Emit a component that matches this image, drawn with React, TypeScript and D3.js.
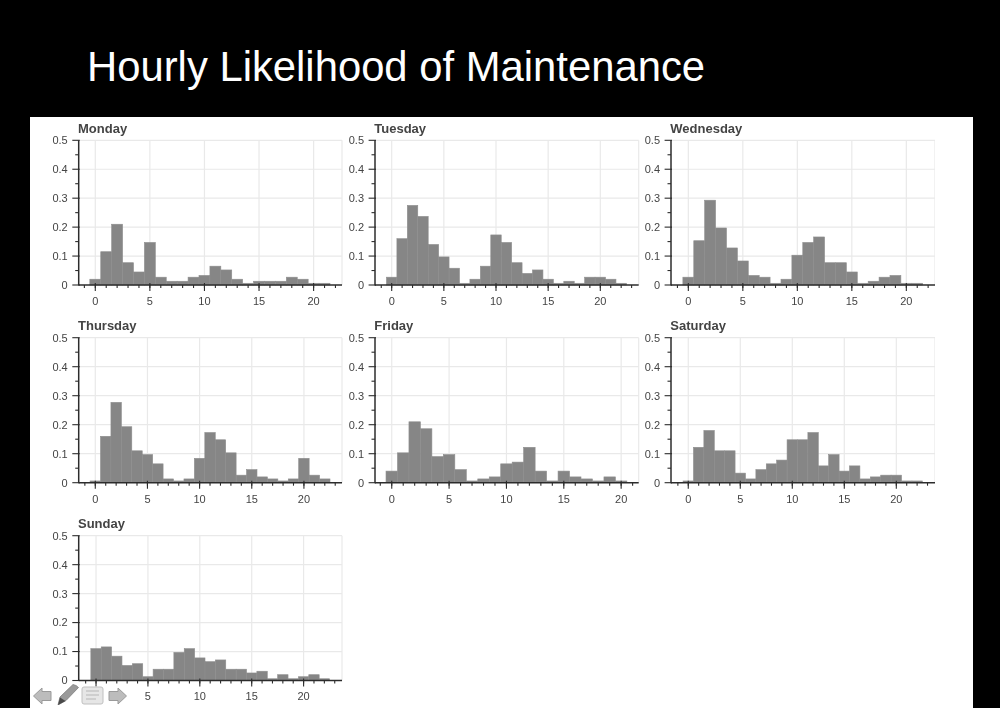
import React from "react";
import * as d3 from "d3";

const FIG_TITLE = "Hourly Likelihood of Maintenance";
const days = ["Monday", "Tuesday", "Wednesday", "Thursday", "Friday", "Saturday", "Sunday"];

const monday = [0.02, 0.115, 0.21, 0.077, 0.045, 0.147, 0.027, 0.013, 0.013, 0.027, 0.033, 0.065, 0.052, 0.02, 0.006, 0.013, 0.013, 0.013, 0.027, 0.02, 0.006, 0.006];
const tuesday = [0.027, 0.16, 0.275, 0.237, 0.14, 0.097, 0.058, 0.006, 0.02, 0.065, 0.173, 0.147, 0.077, 0.04, 0.052, 0.02, 0.006, 0.013, 0.006, 0.027, 0.027, 0.02, 0.006];
const wednesday = [0.027, 0.153, 0.293, 0.197, 0.128, 0.083, 0.033, 0.027, 0.006, 0.02, 0.103, 0.147, 0.166, 0.077, 0.077, 0.045, 0.006, 0.013, 0.027, 0.033, 0.006, 0.006];
const thursday = [0.006, 0.16, 0.277, 0.193, 0.11, 0.097, 0.065, 0.013, 0.006, 0.013, 0.084, 0.173, 0.148, 0.103, 0.026, 0.045, 0.02, 0.013, 0.006, 0.013, 0.084, 0.026, 0.013];
const friday = [0.04, 0.103, 0.21, 0.186, 0.09, 0.097, 0.045, 0.006, 0.013, 0.02, 0.065, 0.071, 0.122, 0.04, 0.006, 0.04, 0.02, 0.013, 0.006, 0.02, 0.006];
const saturday = [0.006, 0.122, 0.18, 0.11, 0.11, 0.033, 0.013, 0.045, 0.065, 0.078, 0.148, 0.148, 0.173, 0.058, 0.097, 0.04, 0.058, 0.013, 0.02, 0.026, 0.026, 0.006, 0.006];
const sunday = [0.11, 0.116, 0.084, 0.052, 0.058, 0.013, 0.039, 0.039, 0.097, 0.11, 0.078, 0.065, 0.071, 0.039, 0.039, 0.026, 0.032, 0.006, 0.02, 0.006, 0.013, 0.02, 0.006];
const series = [monday, tuesday, wednesday, thursday, friday, saturday, sunday];

// visible hour range of every panel's x axis
const xStarts = [-1.52, -1.6, -1.59, -1.59, -1.46, -1.66, -1.67];
const xEnds = [22.6, 23.68, 22.63, 23.65, 21.53, 23.72, 23.7];

const xTicks = [0, 5, 10, 15, 20];
const yTicks = [0, 0.1, 0.2, 0.3, 0.4, 0.5];
const yMinor = [0.05, 0.15, 0.25, 0.35, 0.45];

const colLeft = [78.7, 375, 671];
const colRight = [342, 638.7, 935];
const rowTop = [140.3, 337.7, 535.7];
const rowBottom = [285, 482.7, 680.5];

const FONT = "'Liberation Sans', Arial, sans-serif";
const BAR = "#868686";
const BAR_EDGE = "#8e8e8e";
const GRID = "#e9e9e9";
const AXIS = "#2c2c2c";
const LABEL = "#444444";

function Panel({ index }: { index: number }) {
  const col = index % 3;
  const row = Math.floor(index / 3);
  const left = colLeft[col], right = colRight[col], top = rowTop[row], bottom = rowBottom[row];
  const x = d3.scaleLinear().domain([xStarts[index], xEnds[index]]).range([left, right]);
  const y = d3.scaleLinear().domain([0, 0.5]).range([bottom, top]);
  const values = series[index];
  const minor = d3.range(Math.ceil(xStarts[index]), Math.floor(xEnds[index]) + 1);
  return (
    <g>
      <text x={left - 0.7} y={top - 7.6} fontFamily={FONT} fontSize={13} fontWeight={700} fill={LABEL}>{days[index]}</text>
      {xTicks.map((t) => (
        <line key={t} x1={x(t)} x2={x(t)} y1={top} y2={bottom} stroke={GRID} strokeWidth={1.2} />
      ))}
      {yTicks.filter((t) => t > 0).map((t) => (
        <line key={t} x1={left} x2={right} y1={y(t)} y2={y(t)} stroke={GRID} strokeWidth={1.2} />
      ))}
      <line x1={right} x2={right} y1={top} y2={bottom} stroke={GRID} strokeWidth={1.2} />
      {values.map((v, h) => (
        <rect key={h} x={x(h - 0.5)} width={x(h + 0.5) - x(h - 0.5)} y={y(v)} height={y(0) - y(v)} fill={BAR} stroke={BAR_EDGE} strokeWidth={0.6} />
      ))}
      <line x1={left} x2={left} y1={top} y2={bottom + 0.5} stroke={AXIS} strokeWidth={1.5} />
      <line x1={left} x2={right} y1={bottom} y2={bottom} stroke={AXIS} strokeWidth={1.4} />
      {yTicks.map((t) => (
        <g key={t}>
          <line x1={left - 6.4} x2={left + 1} y1={y(t)} y2={y(t)} stroke={AXIS} strokeWidth={1.1} />
          <text x={left - 11} y={y(t) + 3.9} textAnchor="end" fontFamily={FONT} fontSize={11} fill={LABEL}>{t === 0 ? "0" : t.toFixed(1)}</text>
        </g>
      ))}
      {yMinor.map((t) => (
        <line key={t} x1={left - 3.5} x2={left} y1={y(t)} y2={y(t)} stroke={AXIS} strokeWidth={1.1} />
      ))}
      {minor.map((t) => (
        <line key={t} x1={x(t)} x2={x(t)} y1={bottom} y2={bottom + 3} stroke={AXIS} strokeWidth={1.1} />
      ))}
      {xTicks.map((t) => (
        <g key={t}>
          <line x1={x(t)} x2={x(t)} y1={bottom - 2} y2={bottom + 6} stroke={AXIS} strokeWidth={1.1} />
          <text x={x(t)} y={bottom + 19.8} textAnchor="middle" fontFamily={FONT} fontSize={11} fill={LABEL}>{t}</text>
        </g>
      ))}
    </g>
  );
}

function SlideControls() {
  return (
    <g>
      <path d="M33.5 696 L42 688 V691.5 H51 V700.5 H42 V704 Z" fill="#bcbcbc" stroke="#9a9a9a" strokeWidth={1} />
      <path d="M58 705 L60 697 L73 684.5 Q76 685 78.5 687.5 L66 700.5 Z" fill="#9a9a9a" stroke="#7d7d7d" strokeWidth={0.8} />
      <path d="M58 705 L60 697.5 L65.5 701 Z" fill="#4a4a4a" />
      <rect x={82} y={687} width={21} height={17} rx={2} fill="#e6e6e6" stroke="#c0c0c0" strokeWidth={1} />
      <path d="M86 691 H99 M86 695 H99 M86 699 H96" stroke="#b5b5b5" strokeWidth={1.2} fill="none" />
      <path d="M126.5 696 L118 688 V691.5 H109 V700.5 H118 V704 Z" fill="#bcbcbc" stroke="#9a9a9a" strokeWidth={1} />
    </g>
  );
}

export default function App() {
  return (
    <svg width={1000} height={708} viewBox="0 0 1000 708" style={{ position: "fixed", left: 0, top: 0, display: "block" }}>
      <defs>
        <filter id="soft" x="0" y="0" width="100%" height="100%" colorInterpolationFilters="sRGB">
          <feGaussianBlur stdDeviation={0.35} />
        </filter>
      </defs>
      <rect x={0} y={0} width={1000} height={708} fill="#000000" />
      <text x={87} y={81} fontFamily={FONT} fontSize={41.8} fill="#ffffff">{FIG_TITLE}</text>
      <rect x={30} y={117} width={943} height={591} fill="#ffffff" />
      <g filter="url(#soft)">
        {days.map((_, i) => (
          <Panel key={i} index={i} />
        ))}
        <SlideControls />
      </g>
    </svg>
  );
}
